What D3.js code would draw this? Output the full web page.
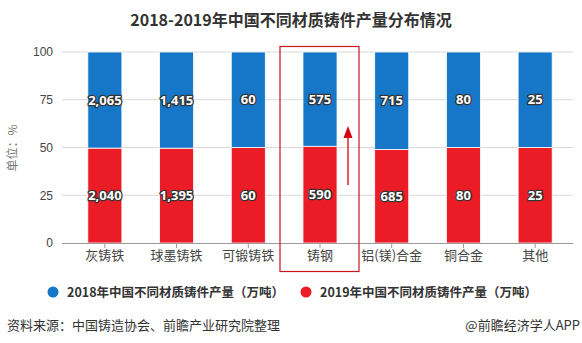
<!DOCTYPE html>
<html>
<head>
<meta charset="utf-8">
<script src="https://cdn.jsdelivr.net/npm/d3@7/dist/d3.min.js"></script>
<style>
  html, body { margin: 0; padding: 0; background: #fff; }
  svg { display: block; font-family: "Microsoft YaHei", "Noto Sans CJK SC", "Noto Sans", sans-serif; }
</style>
</head>
<body>
<svg id="chart" width="582" height="343"></svg>
<script>
// Castings output by material (10k tonnes)
const categories = ["灰铸铁", "球墨铸铁", "可锻铸铁", "铸钢", "铝(镁)合金", "铜合金", "其他"];
const values2018 = [2065, 1415, 60, 575, 715, 80, 25];
const values2019 = [2040, 1395, 60, 590, 685, 80, 25];
const yTicks = [0, 25, 50, 75, 100];
const seriesNames = ["2018年中国不同材质铸件产量（万吨）", "2019年中国不同材质铸件产量（万吨）"];
const highlighted = "铸钢";

const BLUE = "#1677c8", RED = "#ec1c26";

const svg = d3.select("#chart");
const margin = { left: 62, right: 9 };
const W = 582;

const x = d3.scaleBand().domain(categories).range([69, 571]).padding(0);
const y = d3.scaleLinear().domain([0, 100]).range([243, 52]);
const barW = x.bandwidth() * 0.475;

// Title
svg.append("text")
  .attr("x", 291).attr("y", 26)
  .attr("text-anchor", "middle")
  .attr("font-size", 16).attr("font-weight", "bold").attr("fill", "#333")
  .text("2018-2019年中国不同材质铸件产量分布情况");

// Gridlines
svg.append("g").selectAll("line").data(yTicks.filter(d => d > 0)).join("line")
  .attr("x1", margin.left).attr("x2", W - margin.right)
  .attr("y1", d => y(d)).attr("y2", d => y(d))
  .attr("stroke", "#d9d9d9").attr("stroke-width", 1);

// Y axis labels
const yAxis = svg.append("g").attr("transform", `translate(${margin.left},0)`)
  .call(d3.axisLeft(y).tickValues(yTicks).tickSize(0).tickPadding(9));
yAxis.select(".domain").remove();
yAxis.selectAll("text").attr("font-size", 12).attr("fill", "#444")
  .attr("font-family", "Arial, 'Liberation Sans', sans-serif");

svg.append("text")
  .attr("transform", "translate(17,148) rotate(-90)")
  .attr("text-anchor", "middle")
  .attr("font-size", 12).attr("fill", "#777")
  .text("单位：%");

// Stacked percentage bars
const rows = categories.map((c, i) => {
  const total = values2018[i] + values2019[i];
  return { c, v18: values2018[i], v19: values2019[i], p19: values2019[i] / total * 100 };
});

const bars = svg.append("g");
rows.forEach(r => {
  const cx = x(r.c) + x.bandwidth() / 2;
  bars.append("rect")
    .attr("x", cx - barW / 2).attr("width", barW)
    .attr("y", y(r.p19)).attr("height", y(0) - y(r.p19))
    .attr("fill", RED).attr("stroke", "#fff").attr("stroke-width", 0.8);
  bars.append("rect")
    .attr("x", cx - barW / 2).attr("width", barW)
    .attr("y", y(100)).attr("height", y(r.p19) - y(100))
    .attr("fill", BLUE).attr("stroke", "#fff").attr("stroke-width", 0.8);
});

// Value labels
const fmt = d3.format(",");
const labels = svg.append("g")
  .attr("font-size", 13).attr("font-weight", "bold")
  .attr("text-anchor", "middle")
  .attr("font-family", "'Open Sans', 'DejaVu Sans', sans-serif");
rows.forEach(r => {
  const cx = x(r.c) + x.bandwidth() / 2;
  [[r.v18, (100 + r.p19) / 2], [r.v19, r.p19 / 2]].forEach(([v, mid]) => {
    labels.append("text")
      .attr("x", cx).attr("y", y(mid)).attr("dy", "0.36em")
      .attr("fill", "#fff").attr("stroke", "#333").attr("stroke-width", 2.6)
      .attr("stroke-linejoin", "round").attr("paint-order", "stroke")
      .text(fmt(v));
  });
});

// X axis
const xAxis = svg.append("g").attr("transform", `translate(0,${y(0)})`)
  .call(d3.axisBottom(x).tickSize(5).tickPadding(3).tickSizeOuter(0));
xAxis.select(".domain").attr("d", `M${margin.left},0.5H${W - margin.right}`).attr("stroke", "#999");
xAxis.selectAll(".tick line").attr("stroke", "#999");
xAxis.selectAll("text").attr("font-size", 13).attr("fill", "#444")
  .attr("font-family", "'Noto Sans CJK SC', sans-serif");

// Highlight frame and rising arrow on cast steel
const hx = x(highlighted) + x.bandwidth() / 2;
svg.append("rect")
  .attr("x", hx - 40).attr("y", 46.5).attr("width", 79).attr("height", 225)
  .attr("fill", "none").attr("stroke", "#c8161d").attr("stroke-width", 1.2);
svg.append("line")
  .attr("x1", hx + 28).attr("x2", hx + 28).attr("y1", 185).attr("y2", 134)
  .attr("stroke", "#d7000f").attr("stroke-width", 1.3);
svg.append("path")
  .attr("d", `M${hx + 28},126 L${hx + 32.5},138 L${hx + 23.5},138 Z`)
  .attr("fill", "#d7000f");

// Legend
const legend = svg.append("g").attr("font-size", 12.5).attr("font-weight", "bold").attr("fill", "#333");
[[53, BLUE, seriesNames[0]], [306, RED, seriesNames[1]]].forEach(([lx, col, name]) => {
  legend.append("circle").attr("cx", lx).attr("cy", 292).attr("r", 5.5).attr("fill", col);
  legend.append("text").attr("x", lx + 14).attr("y", 292).attr("dy", "0.36em").text(name);
});

// Footer
svg.append("text")
  .attr("x", 7).attr("y", 325).attr("dy", "0.36em")
  .attr("font-size", 13).attr("fill", "#333")
  .text("资料来源：中国铸造协会、前瞻产业研究院整理");
svg.append("text")
  .attr("x", 580).attr("y", 325).attr("dy", "0.36em")
  .attr("text-anchor", "end")
  .attr("font-size", 13).attr("fill", "#333")
  .text("@前瞻经济学人APP");
</script>
</body>
</html>
